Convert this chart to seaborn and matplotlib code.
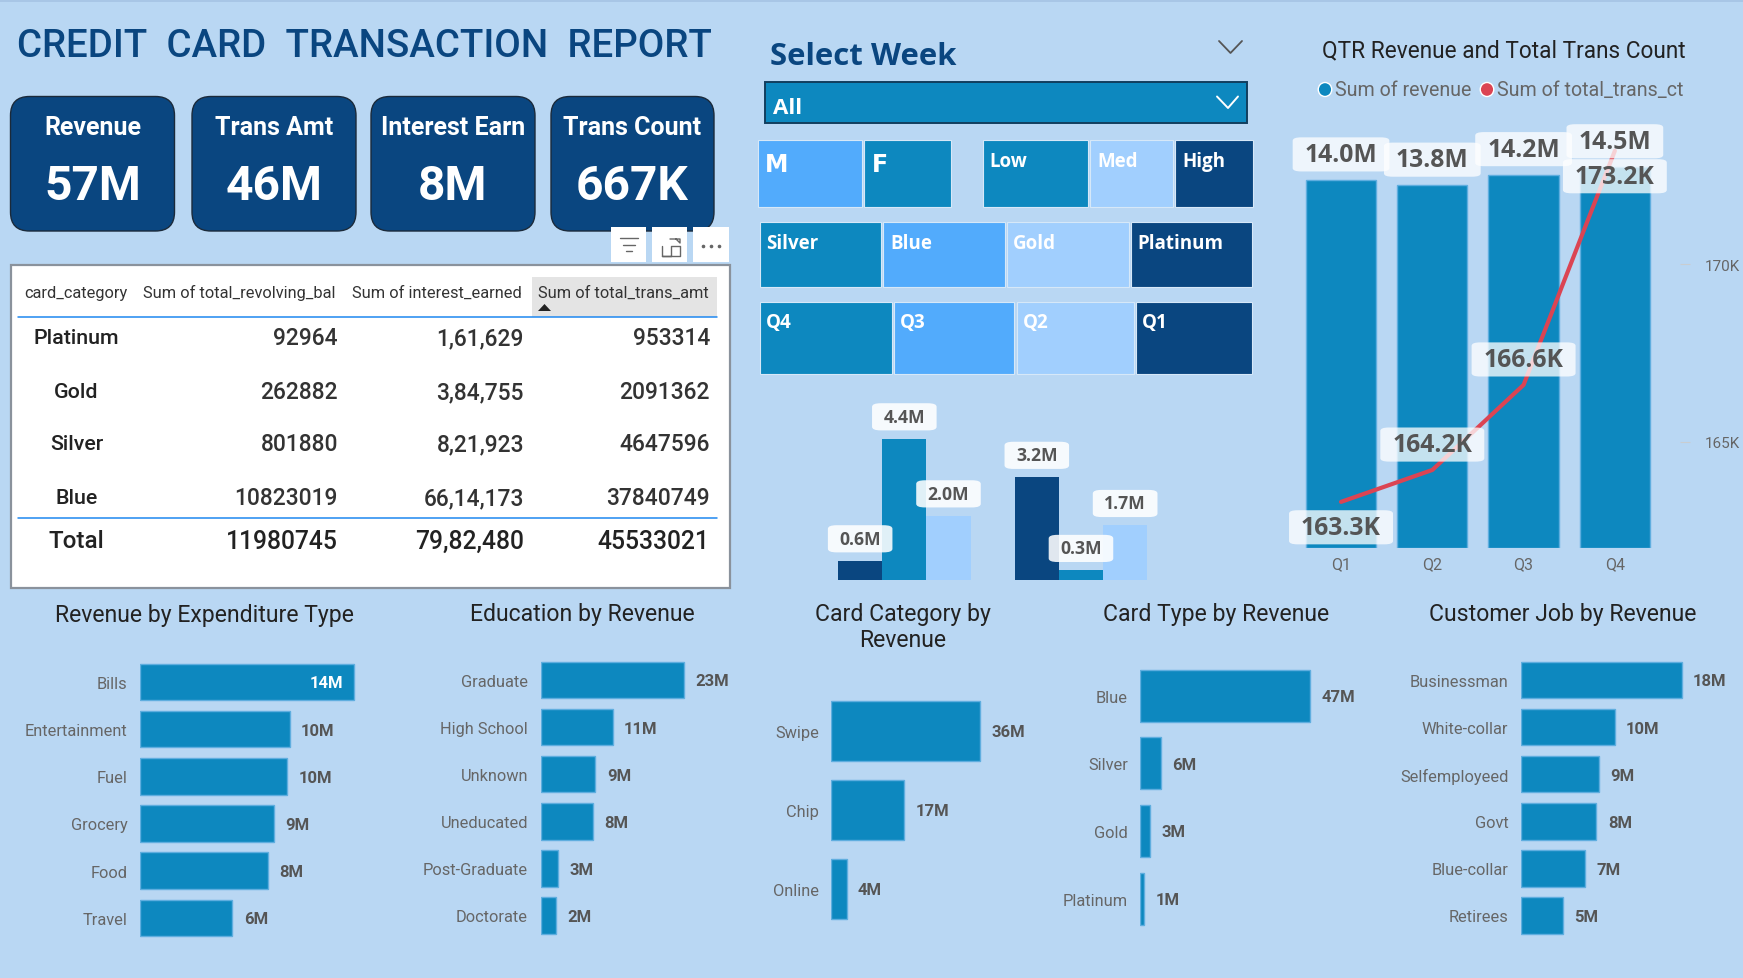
import numpy as np
import pandas as pd
import matplotlib
matplotlib.use("Agg")
import matplotlib.pyplot as plt
from matplotlib.patches import FancyBboxPatch, Rectangle, Ellipse, Polygon
import seaborn as sns

# ---------- data ----------
report_title = "CREDIT  CARD  TRANSACTION  REPORT"
kpi_names = ["Revenue", "Trans Amt", "Interest Earn", "Trans Count"]
kpi_values = ["57M", "46M", "8M", "667K"]

table_header = ["card_category", "Sum of total_revolving_bal", "Sum of interest_earned", "Sum of total_trans_amt"]
table_cats = ["Platinum", "Gold", "Silver", "Blue"]
table_revolving = ["92964", "262882", "801880", "10823019"]
table_interest = ["1,61,629", "3,84,755", "8,21,923", "66,14,173"]
table_amount = ["953314", "2091362", "4647596", "37840749"]
table_total = ["Total", "11980745", "79,82,480", "45533021"]

quarters = ["Q1", "Q2", "Q3", "Q4"]
qtr_revenue = [14.0, 13.8, 14.2, 14.5]
qtr_trans_ct = [163.3, 164.2, 166.6, 173.2]

small_groups = ["Group 1", "Group 2"]
small_levels = ["Dark", "Mid", "Light"]
small_group_1 = [0.6, 4.4, 2.0]
small_group_2 = [3.2, 0.3, 1.7]

exp_cats = ["Bills", "Entertainment", "Fuel", "Grocery", "Food", "Travel"]
exp_vals = [14.0, 9.79, 9.6, 8.74, 8.38, 6.03]
edu_cats = ["Graduate", "High School", "Unknown", "Uneducated", "Post-Graduate", "Doctorate"]
edu_vals = [22.6, 11.35, 8.62, 8.24, 2.74, 2.44]
chip_cats = ["Swipe", "Chip", "Online"]
chip_vals = [35.6, 17.35, 3.63]
type_cats = ["Blue", "Silver", "Gold", "Platinum"]
type_vals = [46.6, 5.55, 2.55, 1.0]
job_cats = ["Businessman", "White-collar", "Selfemployeed", "Govt", "Blue-collar", "Retirees"]
job_vals = [17.9, 10.44, 8.65, 8.39, 7.12, 4.64]

# ---------- style ----------
BG = "#B9D7F3"
DARK = "#0A4680"
MID = "#0D88BF"
BRIGHT = "#52ABFC"
LIGHT = "#A1CFFE"
EDGE = "#5FAEDF"
RED = "#DB4453"
GREY = "#666666"
LABEL = "#555555"

W, H = 1743, 979
sns.set_theme(style="white")
plt.rcParams["font.family"] = ["Roboto", "DejaVu Sans"]
fig = plt.figure(figsize=(W / 100, H / 100), dpi=100, facecolor=BG)

bg = fig.add_axes([0, 0, 1, 1], zorder=0)
bg.set_xlim(0, W)
bg.set_ylim(H, 0)
bg.axis("off")


def T(x, y, s, size=12, color="#222222", ha="left", va="center", weight="normal", family=None):
    kw = {"family": family} if family else {}
    return bg.text(x, y + 0.13 * size + 0.5, s, fontsize=size, color=color, ha=ha, va=va, fontweight=weight, **kw)


def R(x0, y0, x1, y1, fc, ec="none", lw=0):
    bg.add_patch(Rectangle((x0, y0), x1 - x0, y1 - y0, fc=fc, ec=ec, lw=lw))


def axes_px(x0, y0, x1, y1, z=1):
    ax = fig.add_axes([x0 / W, 1 - y1 / H, (x1 - x0) / W, (y1 - y0) / H], zorder=z)
    ax.patch.set_alpha(0)
    return ax


# top strip and title
R(0, 0, W, 3, "#A8C6E6")
T(17, 42.5, report_title, size=27.7, color=DARK, weight="medium")

# KPI cards
card_x = [(10.5, 174.5), (192, 356), (371, 535), (551, 714)]
for (x0, x1), name, val in zip(card_x, kpi_names, kpi_values):
    bg.add_patch(FancyBboxPatch((x0, 97.5), x1 - x0, 134.5, boxstyle="round,pad=0,rounding_size=19",
                                fc=DARK, ec="#1B2A3A", lw=1))
    T((x0 + x1) / 2, 125, name, size=18, color="white", ha="center", weight="bold")
    T((x0 + x1) / 2, 182, val, size=34.5, color="white", ha="center", weight="bold")

# visual header buttons
for x0, x1 in [(611.5, 646.5), (652, 687.5), (693, 729)]:
    R(x0, 228, x1, 263, "white")
for xa, xb, yy in [(620.5, 638, 239), (623.5, 635, 246), (626.5, 632, 252)]:
    bg.plot([xa, xb], [yy, yy], color="#666666", lw=1)
bg.plot([662, 662, 680, 680, 671, 671, 662], [247, 257, 257, 247, 247, 257, 257], color="#666666", lw=1)
bg.plot([670, 680, 680, 676], [240, 240, 244, 240], color="#666666", lw=1)
bg.plot([703, 711, 719], [247, 247, 247], ls="none", marker="o", ms=1.6, color="#666666")

# table
R(11, 265.5, 730, 588.5, "white", ec="#8A929C", lw=1.6)
R(532, 278, 717, 317.5, "#E4E4E4")
header_x = [24, 143, 352, 538]
for x, s in zip(header_x, table_header):
    T(x, 291, s, size=11.8, color="#333333")
bg.add_patch(Polygon([[538, 312], [551, 312], [544.5, 305]], fc="#222222", ec="none"))
bg.plot([18, 717], [318, 318], color="#1E88F0", lw=1.1)
bg.plot([18, 717], [518.5, 518.5], color="#1E88F0", lw=1.1)
row_y = [336, 390, 442, 496]
for y, c, a, b, d in zip(row_y, table_cats, table_revolving, table_interest, table_amount):
    T(76.5, y, c, size=15.4, color="#222222", ha="center", weight="medium")
    T(338, y, a, size=16.4, color="#333333", ha="right", weight="medium")
    T(524, y, b, size=16.4, color="#333333", ha="right", weight="medium")
    T(710, y, d, size=16.4, color="#333333", ha="right", weight="medium")
T(76.5, 539, table_total[0], size=17.4, color="#222222", ha="center", weight="medium")
for x, s in zip([338, 524, 709], table_total[1:]):
    T(x, 539, s, size=17.7, color="#222222", ha="right", weight="medium")

# select week slicer
T(770, 53.5, "Select Week", size=22.4, color=DARK, weight="bold", family="Open Sans")
bg.plot([1219, 1230.5, 1242], [42, 54, 42], color="#555555", lw=1.3)
R(765.5, 82.5, 1247, 123.5, MID, ec="#123E5E", lw=1.4)
T(773, 106, "All", size=16, color="white", weight="bold", family="Open Sans")
bg.plot([1217, 1228, 1238], [97.5, 109, 97.5], color="white", lw=1.4)

# tile slicers
tiles = [
    (140.5, 207.5, 162, [(758, 862, BRIGHT, "M", 765), (864, 951, MID, "F", 872)]),
    (140.5, 207.5, 160, [(983, 1088, MID, "Low", 989), (1090, 1173, LIGHT, "Med", 1097), (1175, 1253, DARK, "High", 1182)]),
    (223, 288, 242, [(760, 881, MID, "Silver", 766), (883, 1005, BRIGHT, "Blue", 890), (1007, 1129, LIGHT, "Gold", 1013), (1131, 1252, DARK, "Platinum", 1137)]),
    (303, 374.5, 321, [(760, 892, MID, "Q4", 766), (894, 1014, BRIGHT, "Q3", 900), (1017, 1134, LIGHT, "Q2", 1023), (1136, 1252, DARK, "Q1", 1142)]),
]
for y0, y1, ty, items in tiles:
    for x0, x1, col, s, tx in items:
        R(x0, y0, x1, y1, col, ec="#D6E8F8", lw=0.8)
        if s in ("M", "F"):
            T(tx, ty, s, size=17, color="white", weight="bold", family="DejaVu Sans")
        else:
            T(tx, ty, s, size=13.5, color="white", weight="bold", family="Open Sans")

BOX_SMALL = dict(boxstyle="round,pad=0.65,rounding_size=0.5", fc="white", ec="none", alpha=0.88, mutation_aspect=0.4)
BOX_BIG = dict(boxstyle="round,pad=0.485,rounding_size=0.35", fc="white", ec="none", alpha=0.76, mutation_aspect=0.38)

# small clustered columns
small_df = pd.DataFrame({
    "group": np.repeat(small_groups, len(small_levels)),
    "level": small_levels * len(small_groups),
    "value": small_group_1 + small_group_2,
})
ax_s = axes_px(816, 391, 1169.3, 581)
sns.barplot(data=small_df, x="group", y="value", hue="level", hue_order=small_levels, ax=ax_s,
            palette=[DARK, MID, LIGHT], width=0.75, gap=0, dodge=True, saturation=1, legend=False,
            linewidth=0)
ax_s.set_ylim(0, 190 / 32.1)
ax_s.axis("off")
for cont in ax_s.containers:
    for bar in cont:
        v = bar.get_height()
        ax_s.annotate(f"{v:.1f}M", (bar.get_x() + bar.get_width() / 2, v), xytext=(0, 15.8),
                      textcoords="offset points", ha="center", va="center", fontsize=12.7, fontweight="bold",
                      family="Open Sans", color=LABEL, bbox=BOX_SMALL, annotation_clip=False, zorder=5)

# combo chart
T(1504, 48, "QTR Revenue and Total Trans Count", size=16.3, color="#222222", ha="center")
bg.add_patch(Ellipse((1325, 90.5), 13.5, 14, fc=MID))
bg.add_patch(Ellipse((1487, 90.5), 13.5, 14, fc=RED))
T(1335, 88, "Sum of revenue", size=14.1, color=GREY)
T(1497, 88, "Sum of total_trans_ct", size=14.1, color=GREY)

combo_df = pd.DataFrame({"quarter": quarters, "revenue": qtr_revenue, "trans": qtr_trans_ct})
ax_c = axes_px(1295.4, 131.3, 1689.5, 548.6, z=1)
sns.barplot(data=combo_df, x="quarter", y="revenue", ax=ax_c, color=MID, width=0.77, saturation=1,
            edgecolor=EDGE, linewidth=1)
ax_c.set_xlim(-0.5, 3.5 + 29 / 91.3)
ax_c.set_ylim(0, (547.3 - 130) / 26.27)
ax_c.set_xlabel("")
ax_c.set_ylabel("")
ax_c.set_yticks([])
ax_c.tick_params(axis="x", length=0, labelsize=11.5, labelcolor=GREY, pad=6)
sns.despine(ax=ax_c, left=True, bottom=True)

ax_t = ax_c.twinx()
ax_t.set_zorder(2)
ax_t.patch.set_alpha(0)
sns.lineplot(data=combo_df, x="quarter", y="trans", ax=ax_t, color=RED, linewidth=3, sort=False,
             legend=False)
ax_t.set_ylim(165 - (547.3 - 441.3) / 35.46, 165 + (441.3 - 130) / 35.46)
ax_t.set_yticks([165, 170], ["165K", "170K"])
ax_t.set_ylabel("")
ax_t.tick_params(axis="y", length=7, direction="in", color="#C9CDD0", labelsize=11, labelcolor=GREY, pad=11, width=0.8)
for s in ax_t.spines.values():
    s.set_visible(False)
for i, v in enumerate(qtr_revenue):
    ax_t.annotate(f"{v:.1f}M", (i, v), xycoords=ax_c.transData, xytext=(0, 18.3), textcoords="offset points",
                  ha="center", va="center", fontsize=17.8, fontweight="bold", family="Open Sans",
                  color=LABEL, bbox=BOX_BIG, annotation_clip=False, zorder=6)
trans_offset = [-18.3, 18.3, 18.3, -18.3]
for i, (v, dy) in enumerate(zip(qtr_trans_ct, trans_offset)):
    ax_t.annotate(f"{v:.1f}K", (i, v), xytext=(0, dy), textcoords="offset points",
                  ha="center", va="center", fontsize=17.8, fontweight="bold", family="Open Sans",
                  color=LABEL, bbox=BOX_BIG, annotation_clip=False, zorder=6)


# horizontal bars
def hbars(cats, vals, left, first_c, spacing, px_per, right, width, inside=False):
    top = first_c - spacing / 2
    bottom = first_c + spacing * (len(cats) - 0.5)
    ax = axes_px(left, top, right, bottom)
    df = pd.DataFrame({"cat": cats, "val": vals})
    sns.barplot(data=df, y="cat", x="val", ax=ax, orient="h", color=MID, width=width, saturation=1,
                edgecolor=EDGE, linewidth=1)
    ax.set_xlim(0, (right - left) / px_per)
    ax.set_xlabel("")
    ax.set_ylabel("")
    ax.set_xticks([])
    ax.tick_params(axis="y", length=0, labelsize=11.8, labelcolor=GREY, pad=9)
    sns.despine(ax=ax, left=True, bottom=True)
    for i, v in enumerate(vals):
        lab = f"{v:.0f}M"
        if inside and i == 0:
            ax.annotate(lab, (v, i), xytext=(-7.8, -0.7), textcoords="offset points", ha="right", va="center",
                        fontsize=12, fontweight="bold", color="white", annotation_clip=False)
        else:
            ax.annotate(lab, (v, i), xytext=(8.3, -0.7), textcoords="offset points", ha="left", va="center",
                        fontsize=12, fontweight="bold", color=LABEL, annotation_clip=False)
    return ax


hbars(exp_cats, exp_vals, 140.2, 682.9, 47.2, 15.26, 356, 0.777, inside=True)
hbars(edu_cats, edu_vals, 540.6, 681, 47.1, 6.345, 700, 0.777)
hbars(chip_cats, chip_vals, 831.3, 732, 79, 4.19, 985, 0.756)
hbars(type_cats, type_vals, 1140.4, 696.8, 67.6, 3.64, 1315, 0.77)
hbars(job_cats, job_vals, 1521, 681, 47.1, 8.97, 1690, 0.777)

TS = 16.6
T(204.5, 612.5, "Revenue by Expenditure Type", size=TS, ha="center")
T(582.5, 612, "Education by Revenue", size=TS, ha="center")
T(902.5, 612, "Card Category by", size=TS, ha="center")
T(902.5, 638, "Revenue", size=TS, ha="center")
T(1216, 612, "Card Type by Revenue", size=TS, ha="center")
T(1562.5, 612, "Customer Job by Revenue", size=TS, ha="center")

fig.savefig("out.png", dpi=100, facecolor=BG)
